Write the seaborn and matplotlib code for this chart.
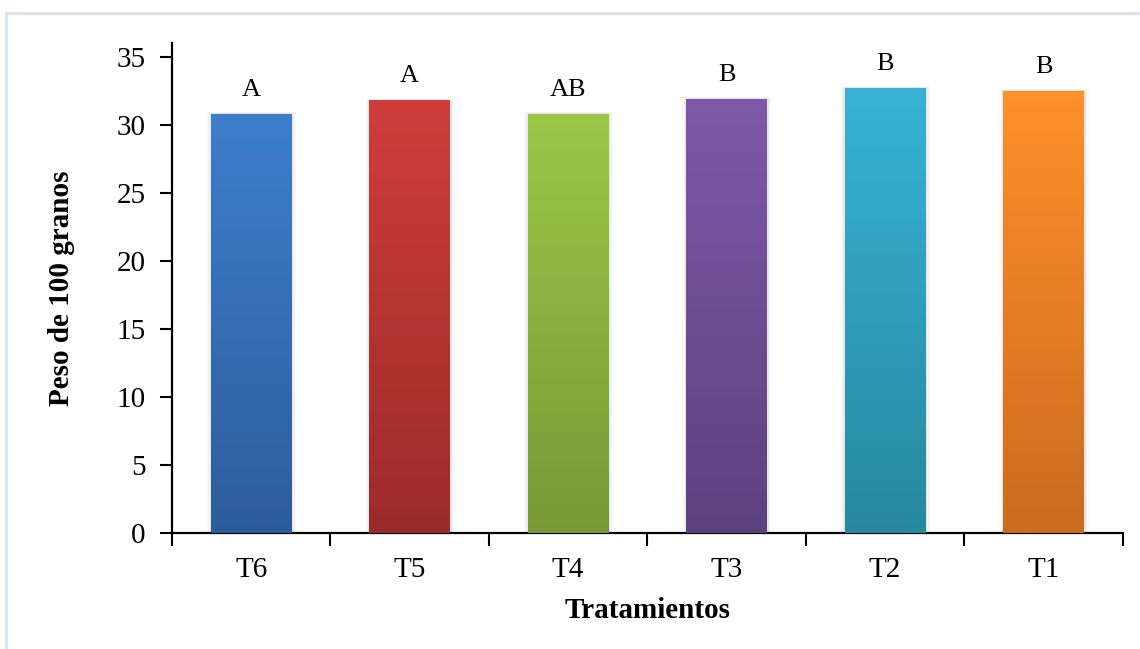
import numpy as np
import pandas as pd
import matplotlib
matplotlib.use("Agg")
import matplotlib.pyplot as plt
import matplotlib.colors as mcolors
from matplotlib.patches import Rectangle
import seaborn as sns

# Treatment means and significance groups
tratamientos = ["T6", "T5", "T4", "T3", "T2", "T1"]
peso = [30.8, 31.8, 30.8, 31.9, 32.7, 32.5]
grupos = ["A", "A", "AB", "B", "B", "B"]

# Top (light) and bottom (dark) shades for each bar's vertical gradient
color_top = ["#3e7ecb", "#cf3d3a", "#9cc748", "#7d59a8", "#37b3d5", "#ff902b"]
color_bottom = ["#2c5d9b", "#9a2b2a", "#769935", "#5c417e", "#26889f", "#cc6a1e"]

sns.set_theme(style="white")
plt.rcParams["font.family"] = ["Liberation Serif", "DejaVu Serif"]
plt.rcParams["text.color"] = "black"
plt.rcParams["axes.labelcolor"] = "black"
plt.rcParams["xtick.color"] = "black"
plt.rcParams["ytick.color"] = "black"

fig = plt.figure(figsize=(11.4, 6.49), dpi=100)
ax = fig.add_axes([0.1509, 0.1787, 0.834, 0.755])

df = pd.DataFrame({"Tratamiento": tratamientos, "Peso": peso})
sns.barplot(data=df, x="Tratamiento", y="Peso", hue="Tratamiento",
            palette=color_top, width=0.51, legend=False, ax=ax,
            edgecolor="none", zorder=3)

# Soft side shadow and vertical gradient fill for every bar
for patch, ctop, cbot in zip(ax.patches, color_top, color_bottom):
    x0, w, h = patch.get_x(), patch.get_width(), patch.get_height()
    for k, a in enumerate([0.045, 0.03, 0.02]):
        d = 0.01 * (k + 1)
        ax.add_patch(Rectangle((x0 - d * 0.8, 0), w + d * 1.8, h + d * 5,
                               facecolor="black", alpha=a, edgecolor="none",
                               zorder=2))
    cmap = mcolors.LinearSegmentedColormap.from_list("g", [cbot, ctop])
    grad = np.linspace(0, 1, 256).reshape(-1, 1)
    im = ax.imshow(grad, cmap=cmap, aspect="auto", origin="lower",
                   extent=(x0, x0 + w, 0, h), zorder=4)
    im.set_clip_path(patch)

# Significance letters above bars
for i, (v, g) in enumerate(zip(peso, grupos)):
    ax.text(i, v + 0.95, g, ha="center", va="bottom", fontsize=19,
            color="black", zorder=5)

ax.set_xlim(-0.5, 5.5)
ax.set_ylim(0, 36)
ax.set_yticks(np.arange(0, 36, 5))
ax.set_xticks(np.arange(-0.5, 6, 1))
ax.set_xticklabels([])
ax.set_xticks(range(len(tratamientos)), minor=True)
ax.set_xticklabels(tratamientos, minor=True)

ax.tick_params(axis="y", which="major", direction="out", length=9, width=1.5,
               labelsize=21, pad=10, left=True)
ax.tick_params(axis="x", which="major", direction="out", length=9, width=1.5,
               bottom=True)
ax.tick_params(axis="x", which="minor", length=0, labelsize=21, pad=17,
               bottom=True)

for side in ["top", "right"]:
    ax.spines[side].set_visible(False)
for side in ["left", "bottom"]:
    ax.spines[side].set_color("black")
    ax.spines[side].set_linewidth(1.6)

ax.set_xlabel("Tratamientos", fontsize=21, fontweight="bold", labelpad=10)
ax.set_ylabel("Peso de 100 granos", fontsize=21, fontweight="bold",
              labelpad=30)
ax.set_facecolor("white")

# Light frame around the chart area
fig.patches.append(Rectangle((6 / 1140, -0.05), 1.2, 1 - 13 / 649 + 0.05,
                             transform=fig.transFigure, fill=False,
                             edgecolor="#d6e3f3", linewidth=2.0))

fig.savefig("out.png", dpi=100, facecolor="white")
